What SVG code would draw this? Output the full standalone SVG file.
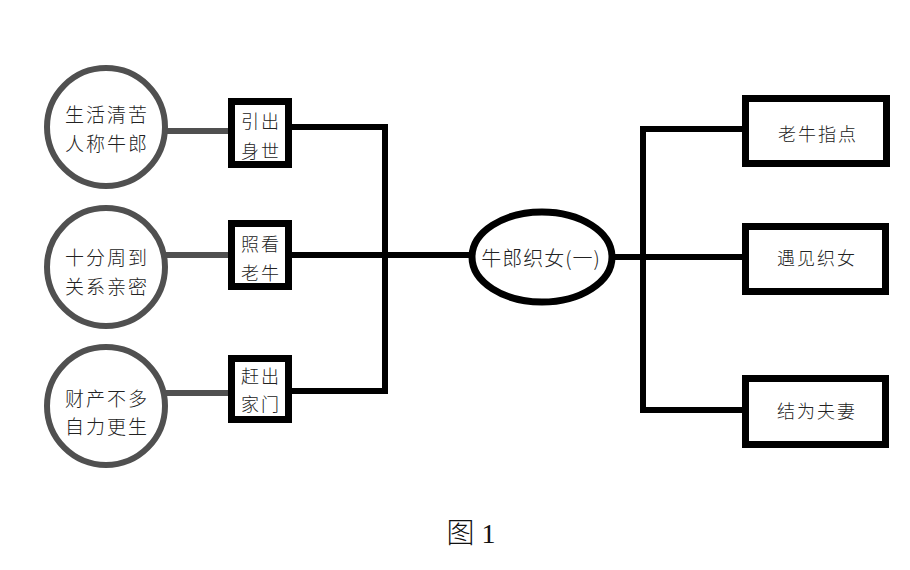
<svg xmlns="http://www.w3.org/2000/svg" width="910" height="570" viewBox="0 0 910 570">
<style>
.bg{fill:#ffffff}
.circ{fill:#ffffff;stroke:#505050;stroke-width:6}
.box{fill:#ffffff;stroke:#000000;stroke-width:7}
.ell{fill:#ffffff;stroke:#000000;stroke-width:7}
.gray{stroke:#505050;stroke-width:6;fill:none}
.blk{stroke:#000000;stroke-width:6;fill:none;stroke-linecap:square}
text{font-family:"Noto Sans CJK SC","Liberation Serif",serif;fill:#222222;font-size:18px;text-anchor:middle;dominant-baseline:central;font-weight:300}
.c{letter-spacing:2px}
.cc{font-size:19px;letter-spacing:2px}
.cap{font-family:"Liberation Serif","Noto Sans CJK SC",serif;font-size:28px;fill:#111111}
</style>
<rect class="bg" x="0" y="0" width="910" height="570"/>
<g id="connectors">
  <line class="gray" x1="166" y1="131" x2="230" y2="131"/>
  <line class="gray" x1="166" y1="255" x2="230" y2="255"/>
  <line class="gray" x1="166" y1="393" x2="230" y2="393"/>
  <line class="blk" x1="292" y1="127" x2="385" y2="127"/>
  <line class="blk" x1="292" y1="255" x2="470" y2="255"/>
  <line class="blk" x1="292" y1="391" x2="385" y2="391"/>
  <line class="blk" x1="385" y1="127" x2="385" y2="391"/>
  <line class="blk" x1="612" y1="257" x2="742" y2="257"/>
  <line class="blk" x1="643" y1="129" x2="643" y2="410"/>
  <line class="blk" x1="643" y1="129" x2="742" y2="129"/>
  <line class="blk" x1="643" y1="410" x2="742" y2="410"/>
</g>
<g id="c1"><circle class="circ" cx="106" cy="127" r="59"/><text class="cc" x="107" y="113">生活清苦</text><text class="cc" x="107" y="142">人称牛郎</text></g>
<g id="c2"><circle class="circ" cx="106" cy="267" r="59"/><text class="cc" x="107" y="256">十分周到</text><text class="cc" x="107" y="285">关系亲密</text></g>
<g id="c3"><circle class="circ" cx="106" cy="406" r="59"/><text class="cc" x="107" y="397">财产不多</text><text class="cc" x="107" y="425">自力更生</text></g>
<g id="b1"><rect class="box" x="231.5" y="101.5" width="57" height="63"/><text class="c" x="261" y="120">引出</text><text class="c" x="261" y="150">身世</text></g>
<g id="b2"><rect class="box" x="231.5" y="223.5" width="57" height="63"/><text class="c" x="261" y="243">照看</text><text class="c" x="261" y="272">老牛</text></g>
<g id="b3"><rect class="box" x="231.5" y="358.5" width="57" height="61"/><text class="c" x="261" y="375">赶出</text><text class="c" x="261" y="403">家门</text></g>
<g id="center"><ellipse class="ell" cx="542" cy="257" rx="70" ry="45"/><text x="541" y="257" style="font-size:20px;letter-spacing:1px">牛郎织女(一)</text></g>
<g id="r1"><rect class="box" x="745.5" y="98.5" width="141" height="65"/><text class="c" x="818" y="133">老牛指点</text></g>
<g id="r2"><rect class="box" x="745.5" y="226.5" width="140" height="65"/><text class="c" x="817" y="257">遇见织女</text></g>
<g id="r3"><rect class="box" x="745.5" y="378.5" width="140" height="66"/><text class="c" x="817" y="410">结为夫妻</text></g>
<text class="cap" x="471" y="533">图 1</text>
</svg>
